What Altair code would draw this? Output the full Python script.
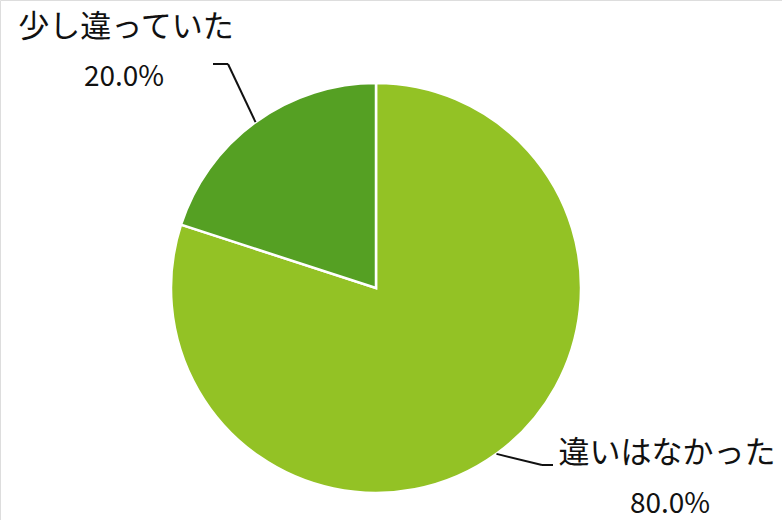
import math
import altair as alt
import pandas as pd

categories = ["違いはなかった", "少し違っていた"]
values = [80.0, 20.0]
colors = ["#93C225", "#55A023"]

W, H = 782, 520
CX, CY, R = 376, 288, 205

df = pd.DataFrame({
    "category": categories,
    "value": values,
    "order": list(range(len(categories))),
    "pct": [f"{v:.1f}%" for v in values],
})

base = alt.Chart(df)

pie = base.mark_arc(outerRadius=R, stroke="white", strokeWidth=2.5).encode(
    theta=alt.Theta("value:Q", stack=True, scale=alt.Scale(domain=[0, sum(values)])),
    order=alt.Order("order:Q"),
    color=alt.Color("category:N", scale=alt.Scale(domain=categories, range=colors), legend=None),
    x=alt.value(CX),
    y=alt.value(CY),
)

# mid-angle points of each slice on the rim
total = sum(values)
cum = 0.0
mids = []
for v in values:
    a = (cum + v / 2) / total * 2 * math.pi
    mids.append((CX + R * math.sin(a), CY - R * math.cos(a)))
    cum += v

# label layout
layout = [
    dict(nx=667, ny=454, px=670, py=505, elbow=(542, 465), end=(553, 465)),
    dict(nx=126, ny=28, px=124, py=78, elbow=(228, 64), end=(213, 64)),
]

layers = [pie]
FONT = "Noto Sans CJK JP"
for i, lay in enumerate(layout):
    sub = df.iloc[[i]]
    c = alt.Chart(sub)
    layers.append(c.mark_text(font=FONT, fontSize=31, color="#111111", align="center", baseline="middle").encode(
        text="category:N", x=alt.value(lay["nx"]), y=alt.value(lay["ny"])))
    layers.append(c.mark_text(font=FONT, fontSize=28, color="#111111", align="center", baseline="middle").encode(
        text="pct:N", x=alt.value(lay["px"]), y=alt.value(lay["py"])))
    mx, my = mids[i]
    ex, ey = lay["elbow"]
    fx, fy = lay["end"]
    layers.append(c.mark_rule(color="#111111", strokeWidth=2).encode(
        x=alt.value(mx), y=alt.value(my), x2=alt.value(ex), y2=alt.value(ey)))
    layers.append(c.mark_rule(color="#111111", strokeWidth=2).encode(
        x=alt.value(ex), y=alt.value(ey), x2=alt.value(fx), y2=alt.value(fy)))

chart = alt.layer(*layers).properties(
    width=W, height=H, padding=0, autosize=alt.AutoSizeParams(type="none")
).configure_view(stroke=None).configure(background="white")

chart.save("out.html", embed_options={"renderer": "svg", "actions": False})
